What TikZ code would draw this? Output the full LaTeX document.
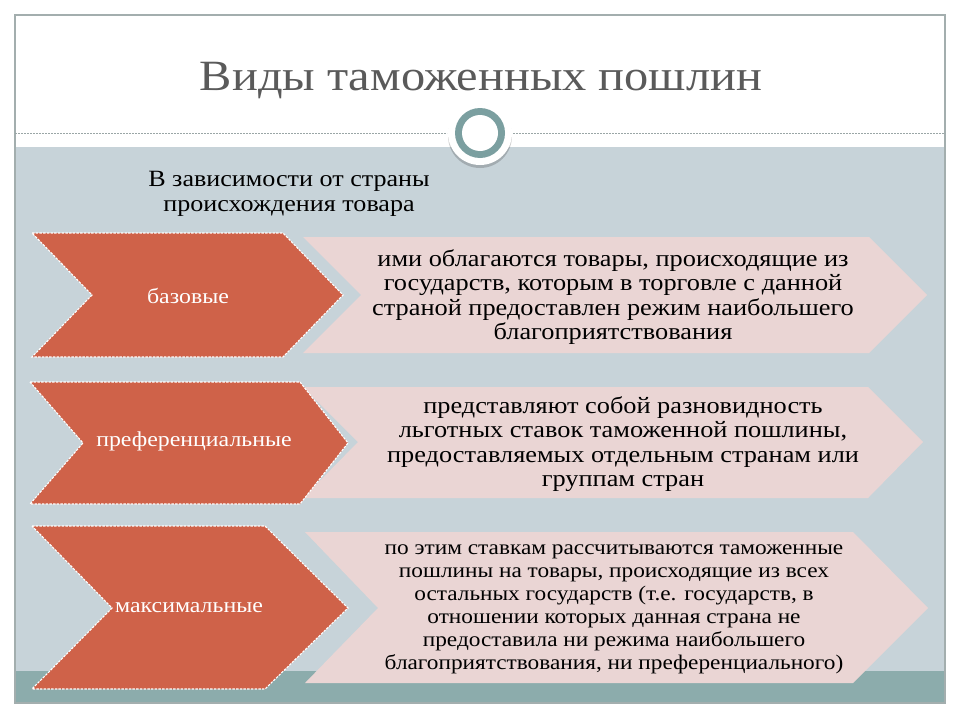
\documentclass[tikz,border=0pt]{standalone}
\usepackage{fontspec}
\setmainfont[FakeStretch=1.12]{Liberation Serif}
\definecolor{chev}{HTML}{CF6249}
\definecolor{pinkc}{HTML}{EAD5D4}
\definecolor{bgblue}{HTML}{C7D3D9}
\definecolor{band}{HTML}{8CACAC}
\definecolor{ringc}{HTML}{7B9FA0}
\definecolor{titlec}{HTML}{5A5A5A}
\definecolor{framec}{HTML}{A3AEAE}
\definecolor{sepc}{HTML}{9AA6A6}
\begin{document}
\begin{tikzpicture}[x=1pt,y=-1pt,
  chevbox/.style={fill=chev, draw=white, line width=1.1pt, dash pattern=on 2.5pt off 1.2pt, line join=miter},
  pinkbox/.style={fill=pinkc, draw=none},
  labeltext/.style={text=white, font=\fontsize{21.3}{24}\selectfont, inner sep=0pt},
  desctext/.style={text=black, align=center, inner sep=0pt, font=\fontsize{23.5}{24.5}\selectfont},
  smalltext/.style={text=black, align=center, inner sep=0pt, font=\fontsize{20.8}{23}\selectfont}]
\useasboundingbox (0,0) rectangle (960,720);
\fill[white] (0,0) rectangle (960,720);
% slide frame
\fill[bgblue] (15,147) rectangle (945,671);
\fill[band] (15,671) rectangle (945,703);
\draw[framec, line width=1.5pt] (15,15) rectangle (945,703);
\draw[sepc, line width=0.8pt, dash pattern=on 2pt off 1pt] (15,133) -- (447,133);
\draw[sepc, line width=0.8pt, dash pattern=on 2pt off 1pt] (513,133) -- (945,133);
% circle
\fill[black, opacity=0.18] (480,136) circle (32);
\fill[white] (480,133) circle (32);
\fill[ringc] (480,133) circle (25);
\fill[white] (480,133) circle (18);
% title
\node[text=titlec, font=\fontsize{43.2}{50}\selectfont, anchor=base, inner sep=0pt] (title) at (481,90) {Виды таможенных пошлин};
\node[text=black, align=center, inner sep=0pt, font=\fontsize{23.3}{25}\selectfont] (sub) at (289,194) {В зависимости от страны\\происхождения товара};
% row 1
\fill[pinkbox] (303,237) -- (869,237) -- (927,295) -- (869,353) -- (303,353) -- (361,295) -- cycle;
\draw[chevbox] (32,233) -- (283,233) -- (343,295) -- (283,357) -- (32,357) -- (92,295) -- cycle;
\node[labeltext] (l1) at (188,296) {базовые};
\node[desctext] (d1) at (613,297) {ими облагаются товары, происходящие из\\государств, которым в торговле с данной\\страной предоставлен режим наибольшего\\благоприятствования};
% row 2
\fill[pinkbox] (303,387) -- (868,387) -- (923,442) -- (868,498) -- (303,498) -- (358,442) -- cycle;
\draw[chevbox] (30,382) -- (300,382) -- (348,443) -- (300,504) -- (30,504) -- (83,443) -- cycle;
\node[labeltext] (l2) at (194,441) {преференциальные};
\node[desctext] (d2) at (623,444) {представляют собой разновидность\\льготных ставок таможенной пошлины,\\предоставляемых отдельным странам или\\группам стран};
% row 3
\fill[pinkbox] (305,532) -- (853,532) -- (928,608) -- (853,683) -- (305,683) -- (378,608) -- cycle;
\draw[chevbox] (32,526) -- (265,526) -- (348,608) -- (265,689) -- (32,689) -- (112,608) -- cycle;
\node[labeltext] (l3) at (189,608) {максимальные};
\node[smalltext] (d3) at (614,609) {по этим ставкам рассчитываются таможенные\\пошлины на товары, происходящие из всех\\остальных государств (т.е. государств, в\\отношении которых данная страна не\\предоставила ни режима наибольшего\\благоприятствования, ни преференциального)};
\end{tikzpicture}
\end{document}
